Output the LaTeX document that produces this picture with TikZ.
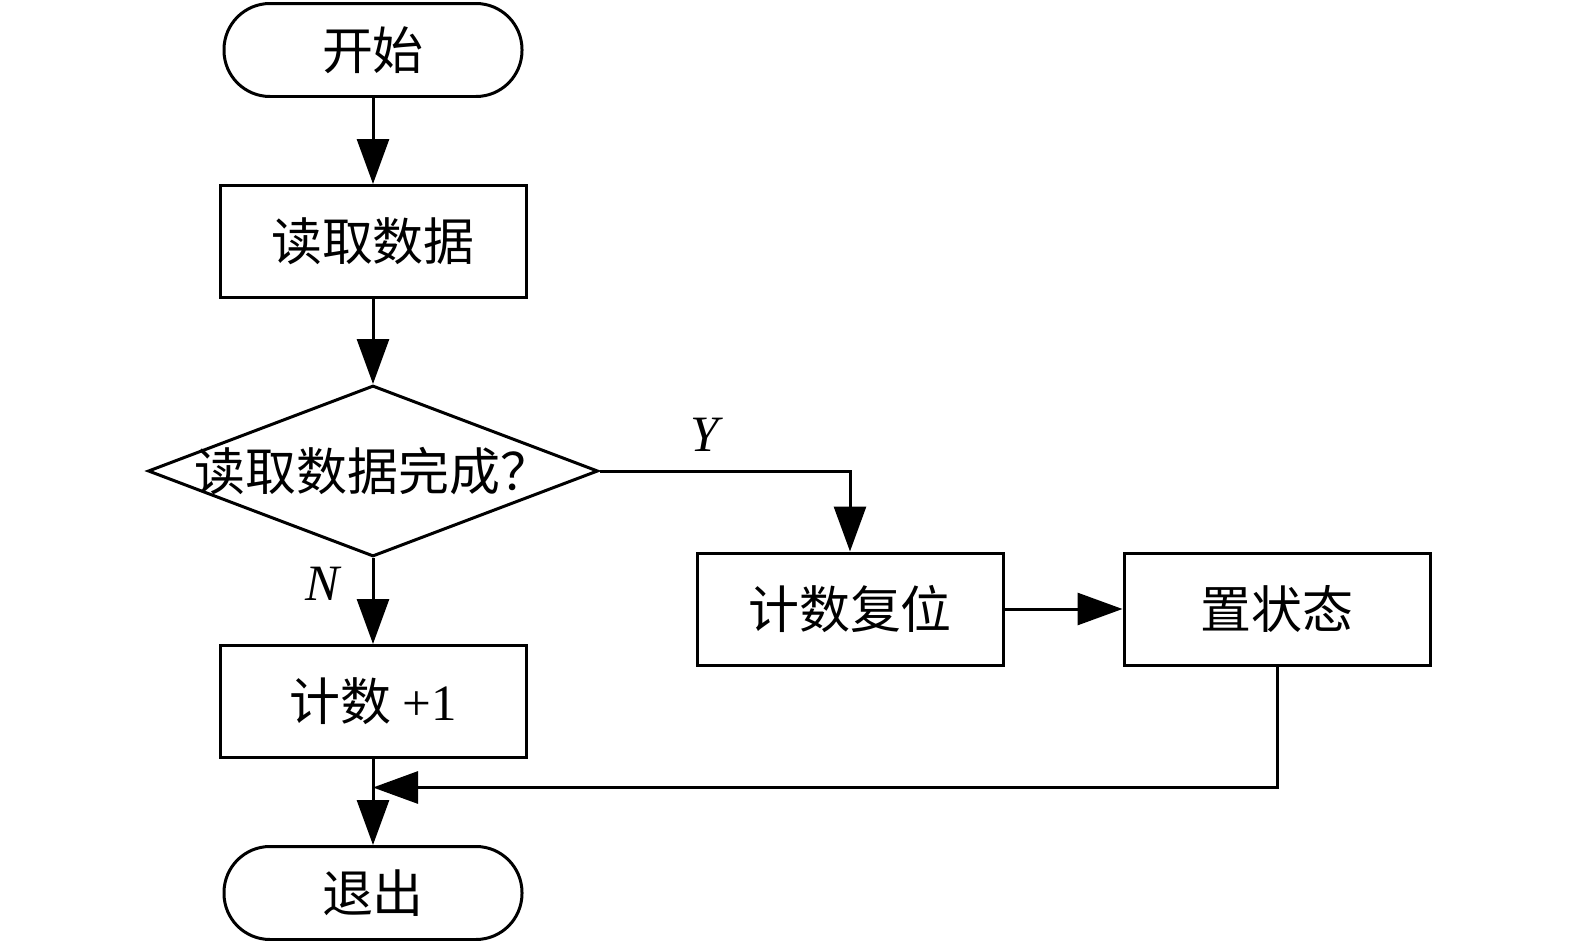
\documentclass[tikz,border=0pt]{standalone}
\usepackage{fontspec}
\setmainfont{Liberation Serif}
\newfontfamily\cjk{Noto Sans CJK SC}
\newcommand\flowfs{\fontsize{14.5pt}{17pt}\selectfont}
\usetikzlibrary{arrows.meta, positioning, calc, shapes.geometric}
\tikzset{
  term/.style  = {draw, rectangle, rounded corners=0.46cm, align=center,
                  font=\cjk\flowfs, minimum width=2.98cm, minimum height=0.93cm},
  proc/.style  = {draw, rectangle, align=center, font=\cjk\flowfs,
                  minimum width=3.06cm, minimum height=1.12cm},
  cond/.style  = {draw, diamond, inner sep=0pt,
                  minimum width=4.50cm, minimum height=1.71cm},
  txt/.style   = {font=\cjk\flowfs, inner sep=0pt},
  arr/.style   = {-{Triangle[length=0.45cm, width=0.32cm]}},
  lbl/.style   = {font=\flowfs\itshape}
}

\begin{document}
\begin{tikzpicture}[line width=0.03cm]
  \useasboundingbox (0,0) rectangle (15.75,-9.41);

  % main column
  \node[term] (Start) at (3.73,-0.50) {开始};
  \node[proc, below=0.86cm of Start]   (Read)  {读取数据};
  \node[cond, below=0.85cm of Read]    (Done)  {};
  \node[txt] (DoneTxt) at (Done) {读取数据完成？};
  \node[proc, below=0.86cm of Done]    (Count) {计数 {\rmfamily +1}};
  \node[term, below=0.86cm of Count]   (Quit)  {退出};

  % right branch
  \node[proc] (Reset) at (8.50,-6.09) {计数复位};
  \node[proc, right=1.18cm of Reset]   (SetSt) {置状态};

  \coordinate (Back) at ($(SetSt.south)+(0,-1.21)$);

  % connections
  \draw[arr] (Start) -- (Read);
  \draw[arr] (Read)  -- (Done);
  \draw[arr] (Done.south) -- node[lbl, left, pos=0.3, xshift=-0.2cm]{N} (Count.north);
  \draw[arr] (Count) -- (Quit);
  \draw[arr] (Done.east) -| node[lbl, above, pos=0.21, yshift=0.06cm]{Y} (Reset.north);
  \draw[arr] (Reset) -- (SetSt);
  \draw[arr] (SetSt.south) |- (Count.south |- Back);

\end{tikzpicture}
\end{document}
